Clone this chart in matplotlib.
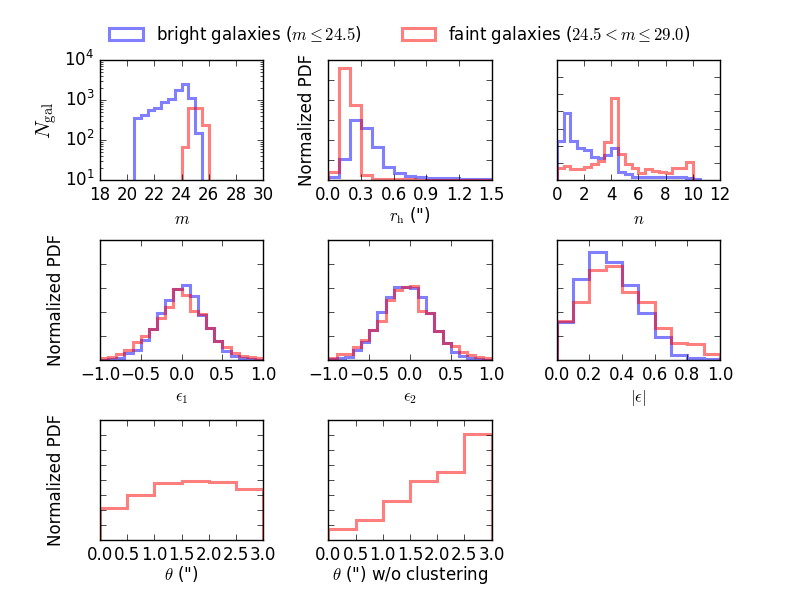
import numpy as np
import matplotlib
matplotlib.use('Agg')
import matplotlib.pyplot as plt

plt.style.use('classic')

# magnitude histogram (counts, log scale)
m_edges_bright = np.arange(20.5, 25.51, 0.5)
m_bright = [345, 420, 560, 620, 910, 1040, 1780, 2460, 1140, 146]
m_edges_faint = np.arange(24.0, 26.01, 0.5)
m_faint = [65, 620, 620, 237]

# half-light radius
rh_edges = np.linspace(0.0, 1.5, 16)
rh_bright = [0.17, 1.06, 2.98, 2.61, 1.64, 0.67, 0.34, 0.18, 0.13, 0.10, 0.10, 0.08, 0.07, 0.05, 0.05]
rh_faint = [0.42, 5.58, 3.77, 0.25, 0.05, 0.04, 0.03, 0.03, 0.02, 0.02, 0.02, 0.02, 0.02, 0.02, 0.02]

# sersic index
n_edges_bright = np.linspace(0.0, 10.5, 22)
n_bright = [2.26, 3.93, 2.26, 1.84, 1.74, 1.35, 1.26, 1.45, 1.88, 0.48, 0.33,
            0.19, 0.17, 0.17, 0.17, 0.17, 0.17, 0.17, 0.15, 0.13, 0.06]
n_edges_faint = np.linspace(0.0, 10.0, 21)
n_faint = [0.68, 0.81, 0.62, 0.62, 0.77, 0.91, 1.10, 2.19, 4.80, 1.49,
           0.91, 0.68, 0.39, 0.62, 0.52, 0.48, 0.39, 0.68, 0.68, 1.06]

# ellipticity components
e_edges = np.linspace(-1.0, 1.0, 21)
e1_bright = [0.01, 0.04, 0.10, 0.28, 0.42, 0.85, 1.30, 1.96, 2.52, 2.94,
             3.12, 2.66, 1.89, 1.33, 0.80, 0.39, 0.18, 0.10, 0.05, 0.02]
e1_faint = [0.07, 0.14, 0.25, 0.40, 0.77, 1.00, 1.30, 1.75, 2.20, 2.94,
            2.70, 2.03, 1.90, 1.33, 0.80, 0.56, 0.28, 0.18, 0.14, 0.07]
e2_bright = [0.03, 0.07, 0.14, 0.42, 0.74, 1.26, 2.00, 2.62, 3.03, 3.03,
             2.98, 2.62, 1.96, 1.19, 0.70, 0.35, 0.18, 0.10, 0.04, 0.01]
e2_faint = [0.07, 0.24, 0.24, 0.53, 0.84, 1.26, 1.64, 2.48, 2.90, 3.03,
            3.08, 2.06, 1.96, 1.19, 0.70, 0.59, 0.32, 0.21, 0.14, 0.07]

# |e|
ae_edges = np.linspace(0.0, 1.0, 11)
ae_bright = [1.57, 3.38, 4.49, 4.07, 3.13, 1.94, 0.97, 0.22, 0.08, 0.04]
ae_faint = [1.64, 2.40, 3.75, 3.93, 2.82, 2.40, 1.33, 0.69, 0.67, 0.25]

# separation
th_edges = np.linspace(0.0, 3.0, 7)
th_clust = [2.11, 3.00, 3.82, 3.93, 3.87, 3.42]
th_noclust = [0.71, 1.33, 2.60, 3.93, 4.56, 7.04]

lab_bright = r'bright galaxies ($m \leq 24.5$)'
lab_faint = r'faint galaxies ($24.5 < m \leq 29.0$)'


def step(ax, edges, vals, color, label=None, log=False):
    edges = np.asarray(edges)
    ax.hist(edges[:-1], bins=edges, weights=vals, histtype='step',
            color=color, alpha=0.5, lw=2.2, label=label, log=log)


fig = plt.figure(figsize=(8, 6), facecolor='white')
fig.subplots_adjust(left=0.125, right=0.9, bottom=0.1, top=0.9,
                    wspace=0.4, hspace=0.5)

# row 1
ax = fig.add_subplot(331)
step(ax, m_edges_bright, m_bright, 'b', lab_bright, log=True)
step(ax, m_edges_faint, m_faint, 'r', lab_faint, log=True)
ax.set_xlim(18, 30)
ax.set_ylim(10, 1e4)
ax.set_xticks(np.arange(18, 31, 2))
ax.set_xlabel(r'$m$')
ax.set_ylabel(r'$N_{\rm gal}$', fontsize=15)
ax.yaxis.set_label_coords(-0.25, 0.5)
handles, labels = ax.get_legend_handles_labels()

ax = fig.add_subplot(332)
step(ax, rh_edges, rh_bright, 'b')
step(ax, rh_edges, rh_faint, 'r')
ax.set_xlim(0, 1.5)
ax.set_ylim(0, 6)
ax.set_xticks([0.0, 0.3, 0.6, 0.9, 1.2, 1.5])
ax.set_yticks(np.arange(0, 7, 1))
ax.yaxis.set_ticklabels([])
ax.set_xlabel(r'$r_{\rm h}$ (")', labelpad=1.5)
ax.set_ylabel('Normalized PDF')

ax = fig.add_subplot(333)
step(ax, n_edges_bright, n_bright, 'b')
step(ax, n_edges_faint, n_faint, 'r')
ax.set_xlim(0, 12)
ax.set_ylim(0, 7)
ax.set_yticks(np.arange(0, 8, 1))
ax.yaxis.set_ticklabels([])
ax.set_xlabel(r'$n$')

# row 2
ax = fig.add_subplot(334)
step(ax, e_edges, e1_bright, 'b')
step(ax, e_edges, e1_faint, 'r')
ax.set_xlim(-1, 1)
ax.set_ylim(0, 5)
ax.set_xticks([-1.0, -0.5, 0.0, 0.5, 1.0])
ax.set_yticks(np.arange(0, 6, 1))
ax.yaxis.set_ticklabels([])
ax.set_xlabel(r'$\epsilon_1$', labelpad=3)
ax.set_ylabel('Normalized PDF')
ax.yaxis.set_label_coords(-0.215, 0.5)

ax = fig.add_subplot(335)
step(ax, e_edges, e2_bright, 'b')
step(ax, e_edges, e2_faint, 'r')
ax.set_xlim(-1, 1)
ax.set_ylim(0, 5)
ax.set_xticks([-1.0, -0.5, 0.0, 0.5, 1.0])
ax.set_yticks(np.arange(0, 6, 1))
ax.yaxis.set_ticklabels([])
ax.set_xlabel(r'$\epsilon_2$', labelpad=3)

ax = fig.add_subplot(336)
step(ax, ae_edges, ae_bright, 'b')
step(ax, ae_edges, ae_faint, 'r')
ax.set_xlim(0, 1)
ax.set_ylim(0, 5)
ax.set_xticks([0.0, 0.2, 0.4, 0.6, 0.8, 1.0])
ax.set_yticks(np.arange(0, 6, 1))
ax.yaxis.set_ticklabels([])
ax.set_xlabel(r'$|\epsilon|$', labelpad=3)

# row 3
ax = fig.add_subplot(337)
step(ax, th_edges, th_clust, 'r')
ax.set_xlim(0, 3)
ax.set_ylim(0, 8)
ax.set_xticks(th_edges)
ax.set_yticks(np.arange(0, 9, 1))
ax.yaxis.set_ticklabels([])
ax.set_xlabel(r'$\theta$ (")', labelpad=0)
ax.set_ylabel('Normalized PDF')
ax.yaxis.set_label_coords(-0.215, 0.5)

ax = fig.add_subplot(338)
step(ax, th_edges, th_noclust, 'r')
ax.set_xlim(0, 3)
ax.set_ylim(0, 8)
ax.set_xticks(th_edges)
ax.set_yticks(np.arange(0, 9, 1))
ax.yaxis.set_ticklabels([])
ax.set_xlabel(r'$\theta$ (") w/o clustering', labelpad=0)

fig.legend(handles, labels, loc='center', bbox_to_anchor=(0.5, 0.942),
           ncol=2, frameon=False, fontsize=12, columnspacing=2.4)

fig.savefig('out.png', dpi=100, facecolor='white')
